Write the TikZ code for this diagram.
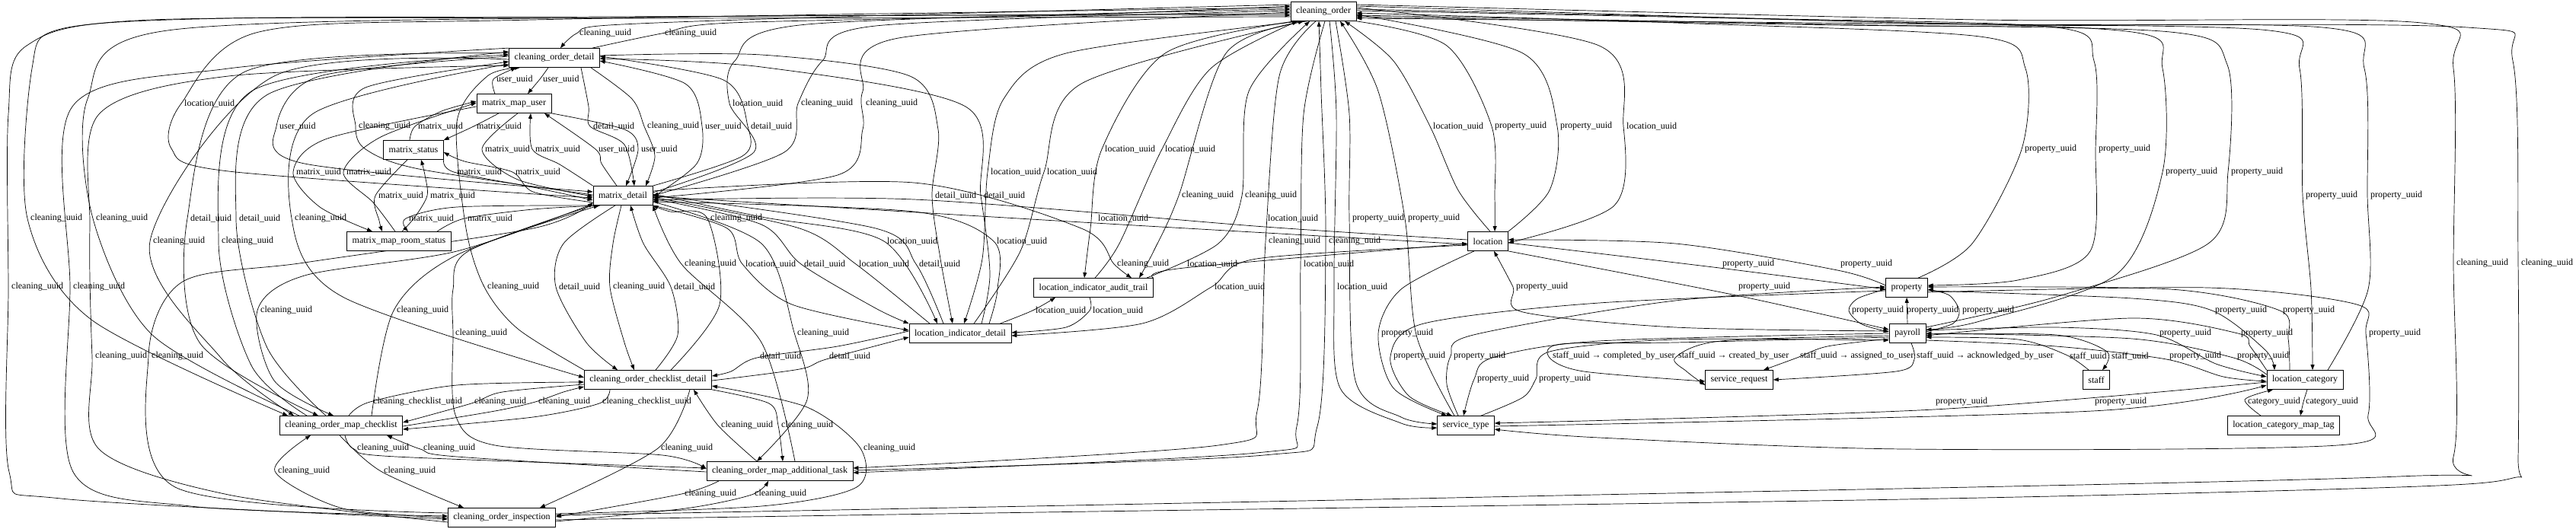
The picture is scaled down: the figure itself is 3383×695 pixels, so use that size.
\documentclass[tikz,border=0pt]{standalone}
\usepackage{fontspec}
\setmainfont{Liberation Serif}
\usetikzlibrary{arrows.meta}
\pgfdeclarelayer{background}
\pgfsetlayers{background,main}
\tikzset{
  tbl/.style={draw, line width=0.8pt, fill=white, minimum height=25pt, inner xsep=7pt, inner ysep=0pt, font=\fontsize{12}{14}\selectfont},
  fk/.style={line width=0.7pt, -{Triangle[length=7pt,width=5pt]}},
  lbl/.style={anchor=west, inner sep=0pt, font=\fontsize{12}{14}\selectfont}
}

\begin{document}
\begin{tikzpicture}[x=1pt,y=-1pt]
\useasboundingbox (0,0) rectangle (3383,695);

	\node[tbl] (co) at (1738,15) {cleaning\_order};
	\node[tbl] (cod) at (728,76) {cleaning\_order\_detail};
	\node[tbl] (mmu) at (675,136) {matrix\_map\_user};
	\node[tbl] (ms) at (543,197) {matrix\_status};
	\node[tbl] (md) at (818,257) {matrix\_detail};
	\node[tbl] (mmrs) at (524,317) {matrix\_map\_room\_status};
	\node[tbl] (loc) at (1954,317) {location};
	\node[tbl] (liat) at (1436,378) {location\_indicator\_audit\_trail};
	\node[tbl] (lid) at (1261,438) {location\_indicator\_detail};
	\node[tbl] (prop) at (2504,378) {property};
	\node[tbl] (pay) at (2505,438) {payroll};
	\node[tbl] (cocd) at (851,499) {cleaning\_order\_checklist\_detail};
	\node[tbl] (sr) at (2284,499) {service\_request};
	\node[tbl] (staff) at (2753,499) {staff};
	\node[tbl] (lc) at (3027,499) {location\_category};
	\node[tbl] (comc) at (448,559) {cleaning\_order\_map\_checklist};
	\node[tbl] (st) at (1925,559) {service\_type};
	\node[tbl] (lcmt) at (2999,559) {location\_category\_map\_tag};
	\node[tbl] (comat) at (1024,619) {cleaning\_order\_map\_additional\_task};
	\node[tbl] (coi) at (659,680) {cleaning\_order\_inspection};

\begin{pgfonlayer}{background}
	% cleaning_order, left side
	\draw[fk] plot[smooth] coordinates {([yshift=9pt]co.west) (1100,22) (800,33) (757,44) ([xshift=8pt]cod.north)};
	\draw[fk] plot[smooth] coordinates {([xshift=50pt]cod.north) (869,44) (960,30) (1400,20) ([yshift=7pt]co.west)};
	\draw[fk] plot[smooth] coordinates {([xshift=-25pt]mmu.north) (648,104) ([xshift=-50pt]cod.south)};
	\draw[fk] plot[smooth] coordinates {([xshift=-8pt]cod.south) (709,104) ([xshift=18pt]mmu.north)};
	\draw[fk] plot[smooth] coordinates {([yshift=5pt]co.west) (700,26) (340,42) (238,136) (225,195) (300,225) ([yshift=-3pt]md.west)};
	\draw[fk] plot[smooth] coordinates {([yshift=4pt]md.east) (990,200) (958,136) (965,80) (1060,32) ([yshift=3pt]co.west)};
	\draw[fk] plot[smooth] coordinates {([yshift=1pt]co.west) (1150,34) (1080,80) (1048,136) (1030,200) (md.east)};
	\draw[fk] plot[smooth] coordinates {([yshift=-3pt]md.east) (1100,230) (1133,170) (1133,120) (1180,50) ([yshift=-1pt]co.west)};
	\draw[fk] plot[smooth] coordinates {([yshift=2pt]cod.west) (420,100) (363,166) (400,215) ([yshift=5pt]md.west)};
	\draw[fk] plot[smooth] coordinates {([yshift=1pt]md.west) (550,222) (480,196) (467,166) (480,115) ([yshift=-5pt]cod.west)};
	\draw[fk] plot[smooth] coordinates {([xshift=-5pt]ms.north) (545,166) (580,146) ([yshift=3pt]mmu.west)};
	\draw[fk] plot[smooth] coordinates {([xshift=-20pt]mmu.south) (622,166) (ms.north east)};
	\draw[fk] plot[smooth] coordinates {([xshift=35pt]cod.south) (773,140) (775,166) (820,190) ([xshift=15pt]md.north)};
	\draw[fk] plot[smooth] coordinates {([xshift=48pt]cod.south) (830,130) (846,166) (860,205) ([xshift=30pt]md.north)};
	\draw[fk] plot[smooth] coordinates {([yshift=-2pt]md.east) (915,215) (922,166) (900,110) ([yshift=-4pt]cod.east)};
	\draw[fk] plot[smooth] coordinates {(md.north east) (975,205) (982,166) (950,105) ([yshift=2pt]cod.east)};
	% cleaning_order <-> location
	\draw[fk] plot[smooth] coordinates {([xshift=3pt]loc.north) (1915,250) (1878,166) (1830,80) ([xshift=28pt]co.south)};
	\draw[fk] plot[smooth] coordinates {(co.south east) (1900,60) (1959,166) (1963,260) ([xshift=9pt]loc.north)};
	\draw[fk] plot[smooth] coordinates {(loc.north east) (2035,250) (2045,166) (2000,70) ([yshift=-4pt]co.east)};
	\draw[fk] plot[smooth] coordinates {([yshift=5pt]co.east) (2100,60) (2132,166) (2120,270) ([yshift=-2pt]loc.east)};
	\draw[fk] plot[smooth] coordinates {([xshift=-38pt]co.south) (1530,70) (1447,196) (1432,300) ([xshift=-12pt]liat.north)};
	\draw[fk] plot[smooth] coordinates {([xshift=2pt]liat.north) (1470,320) (1526,196) (1590,90) ([xshift=-34pt]co.south)};
	\draw[fk] plot[smooth] coordinates {([xshift=5pt]mmu.south) (633,196) (680,236) ([yshift=-1pt]md.west)};
	\draw[fk] plot[smooth] coordinates {(md.north west) (735,216) (699,196) ([xshift=22pt]mmu.south)};
	\draw[fk] plot[smooth] coordinates {([xshift=-8pt]md.north) (790,215) (782,196) ([xshift=40pt]mmu.south)};
	\draw[fk] plot[smooth] coordinates {(mmu.south east) (820,170) (838,196) ([xshift=4pt]md.north)};
	\draw[fk] plot[smooth] coordinates {([yshift=-4pt]mmu.west) (430,182) (385,226) (420,272) ([xshift=-35pt]mmrs.north)};
	\draw[fk] plot[smooth] coordinates {([xshift=-5pt]mmrs.north) (490,266) (451,226) (500,180) ([yshift=1pt]mmu.west)};
	\draw[fk] plot[smooth] coordinates {(ms.south east) (596,226) (700,246) ([yshift=-6pt]md.west)};
	\draw[fk] plot[smooth] coordinates {([yshift=-9pt]md.west) (700,252) (673,226) (610,212) ([yshift=-3pt]ms.east)};
	\draw[fk] plot[smooth] coordinates {([xshift=-30pt]co.south) (1400,70) (1318,130) (1297,226) (1290,340) ([xshift=5pt]lid.north)};
	\draw[fk] plot[smooth] coordinates {([xshift=18pt]lid.north) (1340,330) (1371,226) (1420,110) ([xshift=-26pt]co.south)};
	\draw[fk] plot[smooth] coordinates {([xshift=-8pt]ms.south) (493,257) (498,290) ([xshift=-22pt]mmrs.north)};
	\draw[fk] plot[smooth] coordinates {([xshift=4pt]mmrs.north) (545,285) (561,257) (558,230) ([xshift=10pt]ms.south)};
	\draw[fk] plot[smooth] coordinates {([yshift=3pt]cod.east) (1000,72) (1195,100) (1232,170) (1224,257) (1235,340) ([xshift=-10pt]lid.north)};
	\draw[fk] plot[smooth] coordinates {([xshift=28pt]lid.north) (1300,360) (1288,257) (1268,140) (1000,88) ([yshift=-1pt]cod.east)};
	\draw[fk] plot[smooth] coordinates {([xshift=-22pt]co.south) (1610,70) (1548,257) (1515,330) ([xshift=60pt]liat.north)};
	\draw[fk] plot[smooth] coordinates {([xshift=70pt]liat.north) (1600,320) (1631,257) (1640,120) ([xshift=-18pt]co.south)};
	% cleaning_order, right side
	\draw[fk] plot[smooth] coordinates {([xshift=15pt]prop.north) (2590,320) (2655,196) (2660,90) (2600,48) (2200,30) ([yshift=-2pt]co.east)};
	\draw[fk] plot[smooth] coordinates {([yshift=3pt]co.east) (2300,24) (2700,36) (2750,80) (2752,196) (2745,330) (2650,368) ([yshift=3pt]prop.east)};
	\draw[fk] plot[smooth] coordinates {([yshift=1pt]co.east) (2400,27) (2800,42) (2840,90) (2840,226) (2780,360) (2600,422) ([yshift=5pt]pay.east)};
	\draw[fk] plot[smooth] coordinates {([yshift=8pt]pay.east) (2700,390) (2900,320) (2926,226) (2925,85) (2850,42) (2400,32) ([yshift=-5pt]co.east)};
	\draw[fk] plot[smooth] coordinates {([yshift=7pt]co.east) (2500,30) (2980,40) (3020,90) (3024,257) (3035,380) ([xshift=10pt]lc.north)};
	\draw[fk] plot[smooth] coordinates {([xshift=30pt]lc.north) (3110,380) (3109,257) (3105,90) (3050,36) (2500,34) ([yshift=-7pt]co.east)};
	\draw[fk] plot[smooth] coordinates {([yshift=9pt]co.east) (2600,26) (3180,30) (3222,90) (3222,346) (3222,600) (3150,626) (2000,652) (1200,668) ([yshift=3pt]coi.east)};
	\draw[fk] plot[smooth] coordinates {([yshift=-3pt]coi.east) (1300,674) (2500,656) (3150,640) (3300,628) (3307,600) (3307,346) (3300,80) (3240,36) (2600,32) ([yshift=-9pt]co.east)};
	% far left
	\draw[fk] plot[smooth] coordinates {([yshift=-3pt]co.west) (800,22) (300,24) (80,38) (42,90) (36,287) (120,420) ([xshift=-70pt]comc.north)};
	\draw[fk] plot[smooth] coordinates {([xshift=-55pt]comc.north) (200,440) (122,287) (115,130) (220,40) (900,22) ([yshift=-5pt]co.west)};
	\draw[fk] plot[smooth] coordinates {([yshift=6pt]cod.west) (320,95) (246,287) (262,450) ([xshift=-30pt]comc.north)};
	\draw[fk] plot[smooth] coordinates {([xshift=-20pt]comc.north) (350,455) (310,287) (350,125) ([yshift=8pt]cod.west)};
	\draw[fk] plot[smooth] coordinates {([yshift=-8pt]cod.west) (410,150) (383,287) (450,390) ([yshift=3pt]cocd.west)};
	\draw[fk] plot[smooth] coordinates {(md.south west) (600,272) (533,287) ([xshift=12pt]mmrs.north)};
	\draw[fk] plot[smooth] coordinates {([xshift=50pt]mmrs.north) (610,287) (700,275) ([xshift=10pt]md.south west)};
	\draw[fk] plot[smooth] coordinates {([xshift=30pt]cocd.north) (945,400) (929,287) (880,278) (md.south east)};
	\draw[fk] plot[smooth] coordinates {([yshift=-1pt]md.east) (1438,293) ([yshift=-4pt]loc.west)};
	\draw[fk] plot[smooth] coordinates {([yshift=2pt]loc.west) (1661,298) (1200,262) ([yshift=-6pt]md.east)};
	\draw[fk] plot[smooth] coordinates {([xshift=16pt]co.south) (1772,150) (1772,287) (1780,500) (1840,548) ([yshift=2pt]st.west)};
	\draw[fk] plot[smooth] coordinates {([xshift=-15pt]st.north) (1860,440) (1845,287) (1810,120) ([xshift=22pt]co.south)};
	\draw[fk] plot[smooth] coordinates {([yshift=-2pt]cod.west) (360,100) (197,317) (290,470) ([xshift=-62pt]comc.north)};
	\draw[fk] plot[smooth] coordinates {([xshift=-45pt]comc.north) (330,480) (287,317) (330,120) ([yshift=4pt]cod.west)};
	% location_indicator_detail
	\draw[fk] plot[smooth] coordinates {([yshift=2pt]md.east) (1000,285) (1161,317) ([xshift=-30pt]lid.north)};
	\draw[fk] plot[smooth] coordinates {([xshift=38pt]lid.north) (1310,380) (1305,317) (1200,278) ([yshift=-8pt]md.east)};
	\draw[fk] plot[smooth] coordinates {([xshift=-10pt]co.south) (1680,100) (1662,317) (1651,540) (1600,585) ([yshift=4pt]comat.east)};
	\draw[fk] plot[smooth] coordinates {([yshift=1pt]comat.east) (1660,598) (1730,560) (1741,317) (1735,120) ([xshift=-6pt]co.south)};
	\draw[fk] plot[smooth] coordinates {([xshift=20pt]comat.north) (1000,450) (895,347) (md.south east)};
	\draw[fk] plot[smooth] coordinates {(md.south east) (955,300) (975,347) (1040,400) ([yshift=4pt]lid.west)};
	\draw[fk] plot[smooth] coordinates {([yshift=-4pt]md.east) (1000,295) (1052,347) (1150,405) (lid.north west)};
	\draw[fk] plot[smooth] coordinates {([xshift=-40pt]lid.north) (1124,347) (1050,300) ([yshift=-2pt]md.east)};
	\draw[fk] plot[smooth] coordinates {([xshift=-22pt]lid.north) (1203,347) (1150,300) ([yshift=1pt]md.east)};
	\draw[fk] plot[smooth] coordinates {([yshift=6pt]md.east) (1200,240) (1420,300) (1463,347) ([xshift=50pt]liat.north)};
	\draw[fk] plot[smooth] coordinates {(liat.north east) (1555,352) ([yshift=-3pt]loc.west)};
	\draw[fk] plot[smooth] coordinates {([xshift=2pt]co.south) (1712,150) (1708,347) (1703,560) (1650,595) ([yshift=-2pt]comat.east)};
	\draw[fk] plot[smooth] coordinates {([yshift=-2pt]loc.east) (2258,352) ([yshift=-2pt]prop.west)};
	\draw[fk] plot[smooth] coordinates {([yshift=3pt]prop.west) (2413,355) (2200,320) ([yshift=2pt]loc.east)};
	\draw[fk] plot[smooth] coordinates {([yshift=-7pt]co.west) (900,24) (200,26) (35,60) (11,150) (11,377) (12,620) (80,655) ([yshift=-2pt]coi.west)};
	\draw[fk] plot[smooth] coordinates {(cod.north west) (300,90) (95,140) (92,377) (96,620) (250,665) ([yshift=2pt]coi.west)};
	% cleaning_order_checklist_detail
	\draw[fk] plot[smooth] coordinates {(cocd.north west) (680,432) (636,377) (612,300) (600,160) (640,100) ([xshift=-45pt]cod.south)};
	\draw[fk] plot[smooth] coordinates {([xshift=-10pt]md.south) (740,320) (730,377) (770,450) ([xshift=-40pt]cocd.north)};
	\draw[fk] plot[smooth] coordinates {([xshift=-2pt]md.south) (805,320) (801,377) (820,450) ([xshift=-18pt]cocd.north)};
	\draw[fk] plot[smooth] coordinates {([xshift=10pt]cocd.north) (890,440) (881,377) (845,320) ([xshift=10pt]md.south)};
	\draw[fk] plot[smooth] coordinates {([yshift=-5pt]loc.west) (1650,340) (1591,377) (1500,425) ([yshift=-3pt]lid.east)};
	\draw[fk] plot[smooth] coordinates {([xshift=8pt]co.south) (1755,150) (1752,377) (1760,510) (1840,556) ([yshift=-3pt]st.west)};
	\draw[fk] plot[smooth] coordinates {([yshift=3pt]pay.west) (2200,430) (2000,410) (1987,377) ([xshift=8pt]loc.south)};
	\draw[fk] plot[smooth] coordinates {(loc.south east) (2280,388) ([yshift=5pt]pay.west)};
	\draw[fk] plot[smooth] coordinates {([yshift=2pt]md.south west) (600,330) (400,362) (338,408) (360,500) ([xshift=-10pt]comc.north)};
	\draw[fk] plot[smooth] coordinates {([xshift=40pt]comc.north) (517,408) (600,335) ([xshift=8pt]md.south west)};
	\draw[fk] plot[smooth] coordinates {([xshift=-15pt]lid.north east) (1356,408) ([xshift=-50pt]liat.south)};
	\draw[fk] plot[smooth] coordinates {([xshift=-5pt]liat.south) (1431,408) (1400,430) ([yshift=1pt]lid.east)};
	% property and payroll
	\draw[fk] plot[smooth] coordinates {([yshift=-2pt]prop.west) (2440,392) (2428,408) (2445,426) ([yshift=2pt]pay.west)};
	\draw[fk] plot[smooth] coordinates {(pay.north) (prop.south)};
	\draw[fk] plot[smooth] coordinates {([yshift=2pt]pay.east) (2565,425) (2573,408) (2560,388) ([yshift=-2pt]prop.east)};
	\draw[fk] plot[smooth] coordinates {([yshift=-4pt]prop.east) (2800,392) (2905,408) (2975,460) ([xshift=-40pt]lc.north)};
	\draw[fk] plot[smooth] coordinates {([xshift=-20pt]lc.north) (3005,445) (2994,408) (2850,380) ([yshift=1pt]prop.east)};
	\draw[fk] plot[smooth] coordinates {(md.south west) (615,330) (595,380) (595,438) (598,545) (650,585) (870,598) ([yshift=3pt]comat.west)};
	\draw[fk] plot[smooth] coordinates {([yshift=-8pt]md.east) (1000,320) (1043,437) (1060,525) ([xshift=-30pt]comat.north)};
	\draw[fk] plot[smooth] coordinates {([xshift=-18pt]loc.south) (1840,380) (1810,438) (1830,510) ([xshift=-25pt]st.north)};
	\draw[fk] plot[smooth] coordinates {([yshift=4pt]pay.east) (2700,430) (2832,440) (2910,478) ([yshift=4pt]lc.west)};
	\draw[fk] plot[smooth] coordinates {(lc.north west) (2955,455) (2939,438) (2800,418) ([yshift=-3pt]pay.east)};
	\draw[fk] plot[smooth] coordinates {([yshift=-6pt]prop.east) (2900,378) (3095,400) (3107,438) (3110,545) (3070,585) (2500,590) (2100,575) ([yshift=-5pt]st.east)};
	\draw[fk] plot[smooth] coordinates {([yshift=-6pt]coi.west) (300,650) (130,590) (121,468) (118,300) (130,150) (300,100) ([yshift=-10pt]cod.west)};
	\draw[fk] plot[smooth] coordinates {([yshift=6pt]coi.west) (230,640) (195,468) (240,370) (400,345) (700,300) ([yshift=4pt]md.south west)};
	\draw[fk] plot[smooth] coordinates {([yshift=3pt]lid.west) (1100,455) (994,470) (960,488) ([yshift=5pt]cocd.east)};
	\draw[fk] plot[smooth] coordinates {([yshift=-1pt]cocd.east) (1050,485) (1085,472) ([yshift=-5pt]lid.west)};
	\draw[fk] plot[smooth] coordinates {([yshift=-4pt]prop.west) (2100,398) (1870,425) (1826,468) (1850,520) ([xshift=-18pt]st.north)};
	\draw[fk] plot[smooth] coordinates {([xshift=-10pt]st.north) (1900,505) (1905,468) (1935,440) (2200,395) ([yshift=1pt]prop.west)};
	\draw[fk] plot[smooth] coordinates {([yshift=-5pt]pay.west) (2200,450) (2050,452) (2035,470) (2080,488) ([yshift=-2pt]sr.west)};
	\draw[fk] plot[smooth] coordinates {([yshift=-3pt]pay.west) (2260,448) (2200,470) (2215,488) ([yshift=-7pt]sr.west)};
	\draw[fk] plot[smooth] coordinates {([yshift=-7pt]pay.west) (2400,455) (2360,470) ([xshift=32pt]sr.north)};
	\draw[fk] plot[smooth] coordinates {([xshift=5pt]pay.south) (2514,472) (2490,488) (sr.east)};
	\draw[fk] plot[smooth] coordinates {([xshift=-10pt]staff.north) (2713,466) (2650,446) ([yshift=-5pt]pay.east)};
	\draw[fk] plot[smooth] coordinates {([yshift=-1pt]pay.east) (2700,440) (2767,462) ([xshift=8pt]staff.north)};
	\draw[fk] plot[smooth] coordinates {([yshift=-9pt]pay.east) (2700,455) (2845,472) (2920,495) ([yshift=-2pt]lc.west)};
	\draw[fk] plot[smooth] coordinates {([yshift=7pt]lc.west) (2933,470) (2800,445) (pay.east)};
	\draw[fk] plot[smooth] coordinates {(pay.west) (2100,448) (1960,470) (1936,498) ([xshift=-3pt]st.north)};
	\draw[fk] plot[smooth] coordinates {([xshift=20pt]st.north) (2000,522) (2017,498) (2035,462) (2200,446) ([yshift=-9pt]pay.west)};
	% checklist, additional task, inspection
	\draw[fk] plot[smooth] coordinates {([xshift=10pt]comc.north) (486,528) (600,506) ([yshift=-3pt]cocd.west)};
	\draw[fk] plot[smooth] coordinates {([yshift=-6pt]cocd.west) (660,515) (619,530) ([yshift=4pt]comc.east)};
	\draw[fk] plot[smooth] coordinates {([yshift=-1pt]comc.east) (650,540) (703,528) (740,515) ([yshift=-9pt]cocd.west)};
	\draw[fk] plot[smooth] coordinates {([xshift=-50pt]cocd.south) (787,530) (700,548) ([yshift=-5pt]comc.east)};
	\draw[fk] plot[smooth] coordinates {([yshift=-3pt]lc.west) (2540,538) ([yshift=3pt]st.east)};
	\draw[fk] plot[smooth] coordinates {([yshift=-1pt]st.east) (2748,540) ([yshift=-7pt]lc.west)};
	\draw[fk] plot[smooth] coordinates {([xshift=-30pt]lcmt.north) (2948,525) ([xshift=-42pt]lc.south)};
	\draw[fk] plot[smooth] coordinates {([xshift=3pt]lc.south) (3025,528) ([xshift=22pt]lcmt.north)};
	\draw[fk] plot[smooth] coordinates {([xshift=-30pt]comat.north) (943,559) ([xshift=60pt]cocd.south)};
	\draw[fk] plot[smooth] coordinates {(cocd.south east) (1010,530) (1022,559) ([xshift=4pt]comat.north)};
	\draw[fk] plot[smooth] coordinates {([xshift=5pt]comc.south) (465,590) (520,600) ([yshift=4pt]comat.west)};
	\draw[fk] plot[smooth] coordinates {([yshift=-1pt]comat.west) (600,600) (552,590) ([xshift=60pt]comc.south)};
	\draw[fk] plot[smooth] coordinates {([xshift=55pt]cocd.south) (864,589) ([xshift=50pt]coi.north)};
	\draw[fk] plot[smooth] coordinates {([yshift=5pt]coi.east) (1000,665) (1125,640) (1130,589) (1060,535) ([yshift=-8pt]cocd.east)};
	\draw[fk] plot[smooth] coordinates {(coi.west) (450,668) (361,619) ([xshift=-40pt]comc.south)};
	\draw[fk] plot[smooth] coordinates {([xshift=-2pt]comc.south) (500,619) ([xshift=-50pt]coi.north)};
	\draw[fk] plot[smooth] coordinates {([xshift=-80pt]comat.south) (895,649) ([yshift=1pt]coi.east)};
	\draw[fk] plot[smooth] coordinates {([yshift=-5pt]coi.east) (900,668) (987,650) ([xshift=-15pt]comat.south)};
\end{pgfonlayer}

	\foreach \px/\py/\nm in {761/44/cleaning, 873/44/cleaning, 652/104/user, 713/104/user,
		242/136/location, 962/136/location, 1052/136/cleaning, 1137/136/cleaning,
		367/166/user, 471/166/cleaning, 549/166/matrix, 626/166/matrix, 779/166/detail,
		850/166/cleaning, 926/166/user, 986/166/detail, 1882/166/location, 1963/166/property,
		2049/166/property, 2136/166/location, 1451/196/location, 1530/196/location,
		637/196/matrix, 703/196/matrix, 786/196/user, 842/196/user, 389/226/matrix,
		455/226/matrix, 600/226/matrix, 677/226/matrix, 1301/226/location, 1375/226/location,
		497/257/matrix, 565/257/matrix, 1228/257/detail, 1292/257/detail, 1552/257/cleaning,
		1635/257/cleaning, 2659/196/property, 2756/196/property, 2844/226/property,
		2930/226/property, 3028/257/property, 3113/257/property, 40/287/cleaning,
		126/287/cleaning, 250/287/detail, 314/287/detail, 387/287/cleaning, 537/287/matrix,
		614/287/matrix, 933/287/cleaning, 1442/287/location, 1665/287/location,
		1776/287/property, 1849/287/property, 201/317/cleaning, 291/317/cleaning,
		1165/317/location, 1309/317/location, 1666/317/cleaning, 1745/317/cleaning,
		899/347/cleaning, 979/347/location, 1056/347/detail, 1128/347/location,
		1207/347/detail, 1467/347/cleaning, 1559/347/location, 1712/347/location,
		2262/347/property, 2417/347/property, 3226/346/cleaning, 3311/346/cleaning,
		15/377/cleaning, 96/377/cleaning, 640/377/cleaning, 734/377/detail, 805/377/cleaning,
		885/377/detail, 1595/377/location, 1756/377/location, 1991/377/property,
		2283/377/property, 342/408/cleaning, 521/408/cleaning, 1360/408/location,
		1435/408/location, 2432/408/property, 2504/408/property, 2577/408/property,
		2909/408/property, 2998/408/property, 598/438/cleaning, 1047/438/cleaning,
		1814/438/property, 2836/438/property, 2943/438/property, 3111/438/property,
		125/468/cleaning, 199/468/cleaning, 998/468/detail, 1089/468/detail,
		1830/468/property, 1909/468/property, 2718/468/staff, 2773/468/staff,
		2849/468/property, 2938/468/property, 1940/498/property, 2021/498/property,
		490/528/cleaning\_checklist, 623/528/cleaning, 707/528/cleaning,
		791/528/cleaning\_checklist, 2542/528/property, 2751/528/property,
		2952/528/category, 3028/528/category, 947/559/cleaning, 1026/559/cleaning,
		469/589/cleaning, 556/589/cleaning, 868/589/cleaning, 1134/589/cleaning,
		365/619/cleaning, 504/619/cleaning, 899/649/cleaning, 991/649/cleaning}
		\node[lbl] (lb\px-\py) at (\px,\py) {\nm\_uuid};

	\node[lbl] (lbcompleted) at (2039,468) {staff\_uuid → completed\_by\_user};
	\node[lbl] (lbcreated) at (2204,468) {staff\_uuid → created\_by\_user};
	\node[lbl] (lbassigned) at (2364,468) {staff\_uuid → assigned\_to\_user};
	\node[lbl] (lbacknowledged) at (2517,468) {staff\_uuid → acknowledged\_by\_user};

\end{tikzpicture}
\end{document}
